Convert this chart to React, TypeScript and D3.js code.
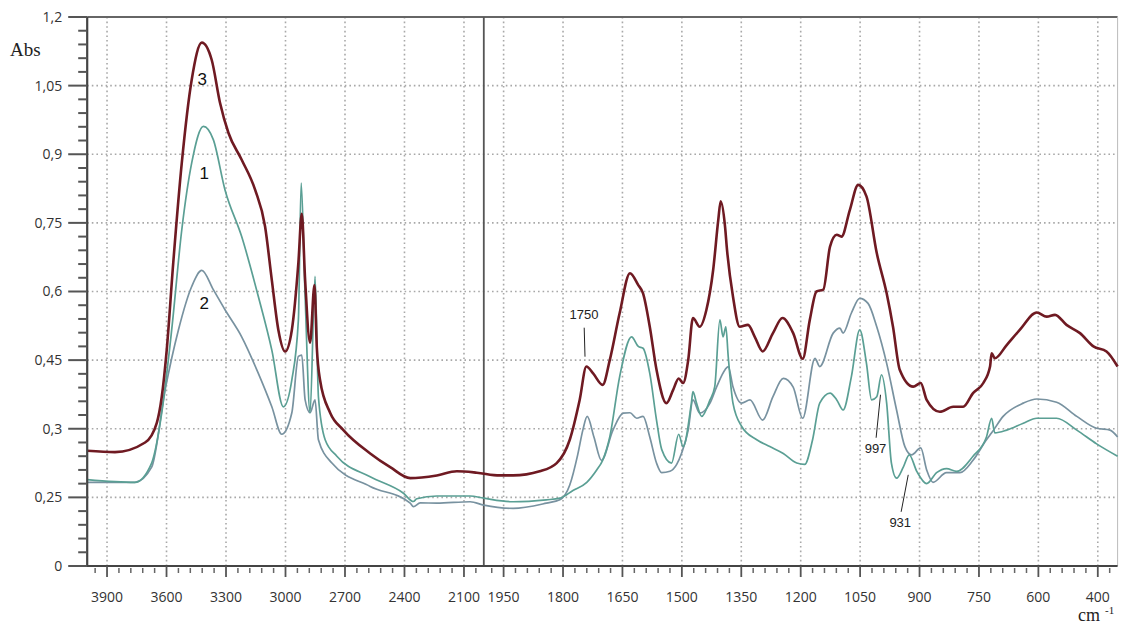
import React from 'react'
import * as d3 from 'd3'

// y axis of the original is not linear: equal steps carry these labels
const yTickValues = [0, 0.25, 0.3, 0.45, 0.6, 0.75, 0.9, 1.05, 1.2]
const yTickLabels = ['0', '0,25', '0,3', '0,45', '0,6', '0,75', '0,9', '1,05', '1,2']

// x axis is split at 2000 cm-1 (right part expanded x2)
const xBreaks = [4000, 2000, 400]
const xTicksLeft = [3900, 3600, 3300, 3000, 2700, 2400, 2100]
const xTicksRight = [1950, 1800, 1650, 1500, 1350, 1200, 1050, 900, 750, 600, 450]
const xTickLabels = ['3900', '3600', '3300', '3000', '2700', '2400', '2100',
  '1950', '1800', '1650', '1500', '1350', '1200', '1050', '900', '750', '600', '400']

// [wavenumber, absorbance]
const series3 = [
  [4000, 0.284], [3860, 0.283], [3708, 0.29], [3649, 0.313], [3624, 0.37], [3599, 0.472], [3566, 0.663],
  [3523, 0.881], [3473, 1.063], [3422, 1.144], [3372, 1.106], [3330, 1.012], [3288, 0.947], [3221, 0.888],
  [3153, 0.822], [3103, 0.742], [3069, 0.625], [3036, 0.516], [3002, 0.469], [2968, 0.516], [2935, 0.663],
  [2918, 0.77], [2901, 0.625], [2876, 0.488], [2854, 0.614], [2842, 0.477], [2826, 0.407], [2775, 0.335],
  [2708, 0.299], [2573, 0.282], [2472, 0.272], [2371, 0.264], [2237, 0.266], [2136, 0.269], [2035, 0.268],
  [1960, 0.266], [1926, 0.266], [1859, 0.269], [1816, 0.275], [1783, 0.292], [1758, 0.363], [1741, 0.436],
  [1724, 0.421], [1700, 0.396], [1682, 0.45], [1657, 0.553], [1631, 0.64], [1610, 0.614], [1598, 0.596],
  [1581, 0.523], [1564, 0.429], [1539, 0.356], [1522, 0.385], [1508, 0.41], [1497, 0.4], [1484, 0.45],
  [1472, 0.542], [1455, 0.523], [1438, 0.56], [1421, 0.647], [1408, 0.757], [1402, 0.797], [1391, 0.742],
  [1386, 0.691], [1371, 0.589], [1354, 0.523], [1333, 0.527], [1316, 0.501], [1296, 0.469], [1270, 0.509],
  [1246, 0.542], [1219, 0.509], [1195, 0.453], [1177, 0.538], [1160, 0.6], [1143, 0.604], [1126, 0.698],
  [1109, 0.724], [1097, 0.72], [1076, 0.778], [1055, 0.833], [1034, 0.808], [1008, 0.684], [983, 0.596],
  [967, 0.523], [950, 0.429], [916, 0.392], [897, 0.4], [882, 0.363], [849, 0.337], [815, 0.348],
  [790, 0.348], [765, 0.378], [739, 0.4], [722, 0.436], [718, 0.465], [710, 0.454], [680, 0.483],
  [647, 0.516], [604, 0.554], [579, 0.545], [558, 0.549], [529, 0.527], [495, 0.509], [461, 0.48],
  [428, 0.469], [400, 0.436],
]

const series1 = [
  [4000, 0.263], [3759, 0.261], [3675, 0.275], [3624, 0.335], [3574, 0.516], [3523, 0.735], [3473, 0.881],
  [3414, 0.961], [3364, 0.932], [3305, 0.822], [3221, 0.72], [3137, 0.589], [3069, 0.472], [3011, 0.348],
  [2968, 0.407], [2935, 0.538], [2921, 0.837], [2901, 0.589], [2876, 0.335], [2851, 0.633], [2834, 0.37],
  [2800, 0.292], [2741, 0.28], [2573, 0.265], [2405, 0.253], [2355, 0.235], [2338, 0.245], [2237, 0.251],
  [2069, 0.251], [2000, 0.247], [1926, 0.234], [1842, 0.241], [1808, 0.247], [1775, 0.255], [1740, 0.261],
  [1715, 0.27], [1700, 0.277], [1682, 0.294], [1657, 0.414], [1627, 0.501], [1610, 0.48], [1598, 0.476],
  [1581, 0.421], [1564, 0.319], [1551, 0.285], [1526, 0.275], [1508, 0.296], [1497, 0.287], [1476, 0.356],
  [1472, 0.381], [1463, 0.356], [1450, 0.327], [1429, 0.363], [1417, 0.392], [1404, 0.538], [1396, 0.501],
  [1389, 0.523], [1383, 0.458], [1371, 0.356], [1349, 0.305], [1311, 0.292], [1278, 0.287], [1244, 0.282],
  [1210, 0.275], [1190, 0.274], [1170, 0.292], [1152, 0.356], [1126, 0.378], [1109, 0.363], [1093, 0.341],
  [1072, 0.414], [1051, 0.516], [1034, 0.443], [1021, 0.363], [1008, 0.37], [996, 0.418], [983, 0.356],
  [971, 0.275], [958, 0.264], [941, 0.272], [926, 0.281], [907, 0.269], [882, 0.26], [857, 0.268],
  [832, 0.271], [806, 0.269], [765, 0.28], [731, 0.294], [718, 0.323], [710, 0.297], [680, 0.299],
  [638, 0.312], [604, 0.323], [554, 0.323], [503, 0.299], [453, 0.289], [400, 0.28],
]

const series2 = [
  [4000, 0.261], [3759, 0.261], [3675, 0.272], [3607, 0.385], [3540, 0.516], [3473, 0.611], [3422, 0.646],
  [3364, 0.604], [3305, 0.56], [3221, 0.501], [3137, 0.421], [3069, 0.348], [3019, 0.296], [2968, 0.335],
  [2935, 0.458], [2918, 0.461], [2901, 0.363], [2876, 0.335], [2851, 0.363], [2834, 0.292], [2766, 0.275],
  [2573, 0.258], [2371, 0.229], [2355, 0.216], [2321, 0.23], [2237, 0.229], [2069, 0.234], [2000, 0.222],
  [1926, 0.21], [1842, 0.229], [1808, 0.241], [1783, 0.259], [1763, 0.281], [1750, 0.299], [1739, 0.327],
  [1722, 0.294], [1703, 0.277], [1674, 0.299], [1648, 0.334], [1631, 0.335], [1614, 0.323], [1598, 0.327],
  [1581, 0.294], [1564, 0.275], [1551, 0.268], [1530, 0.269], [1513, 0.274], [1501, 0.282], [1484, 0.299],
  [1472, 0.363], [1455, 0.334], [1429, 0.356], [1412, 0.392], [1391, 0.429], [1383, 0.436], [1371, 0.392],
  [1349, 0.356], [1328, 0.363], [1296, 0.319], [1270, 0.37], [1244, 0.41], [1219, 0.391], [1195, 0.323],
  [1164, 0.454], [1152, 0.436], [1118, 0.509], [1101, 0.52], [1093, 0.509], [1072, 0.553], [1051, 0.585],
  [1030, 0.574], [1008, 0.523], [983, 0.443], [958, 0.341], [937, 0.287], [920, 0.281], [897, 0.286],
  [882, 0.27], [866, 0.261], [832, 0.268], [798, 0.268], [765, 0.277], [731, 0.292], [718, 0.297],
  [689, 0.327], [638, 0.356], [604, 0.365], [554, 0.358], [503, 0.327], [453, 0.301], [419, 0.299],
  [400, 0.294],
]

const curveLabels = [
  { text: '3', wn: 3420, v: 1.065 },
  { text: '1', wn: 3410, v: 0.86 },
  { text: '2', wn: 3410, v: 0.575 },
]

// peak marks: point on curve and label offset
const peakMarks = [
  { text: '1750', wn: 1742, v: 0.44, dx: -2, dy: -46 },
  { text: '997', wn: 996, v: 0.418, dx: -6, dy: 78 },
  { text: '931', wn: 926, v: 0.281, dx: -9, dy: 72 },
]

const W = 1121
const H = 628
const left = 87.2
const right = 1117.6
const breakX = 483.8
const top = 17
const bottom = 566

const tickFont = '"Open Sans", "Liberation Sans", sans-serif'
const serif = '"Liberation Serif", "DejaVu Serif", serif'

export default function App() {
  const x = d3.scaleLinear().domain(xBreaks).range([left, breakX, right])
  const yStep = (bottom - top) / (yTickValues.length - 1)
  const y = d3.scaleLinear()
    .domain(yTickValues)
    .range(yTickValues.map((_, i) => bottom - i * yStep))

  const line = d3.line()
    .x(d => x(d[0]))
    .y(d => y(d[1]))
    .curve(d3.curveMonotoneX)

  const xMajors = [...xTicksLeft, ...xTicksRight]
  const xMinors = [
    ...d3.range(3960, 2000, -60).filter(v => (3900 - v) % 300 !== 0),
    ...d3.range(1980, 400, -30).filter(v => (1950 - v) % 150 !== 0),
  ]
  const yMinors = []
  for (let i = 0; i < yTickValues.length - 1; i++) {
    for (let k = 1; k < 5; k++) yMinors.push(bottom - (i + k / 5) * yStep)
  }

  const grid = '#a8a8a8'

  return (
    <svg width={W} height={H} style={{ position: 'absolute', left: 0, top: 0, background: '#fff' }}>
      {/* grid */}
      <g stroke={grid} strokeWidth={1.6} strokeDasharray="1.6,3">
        {xMajors.map(v => (
          <line key={'gx' + v} x1={x(v)} x2={x(v)} y1={top} y2={bottom} />
        ))}
        {yTickValues.slice(1, -1).map(v => (
          <line key={'gy' + v} x1={left} x2={right} y1={y(v)} y2={y(v)} />
        ))}
      </g>

      {/* frame */}
      <line x1={left} x2={right} y1={top} y2={top} stroke="#666" strokeWidth={2} />
      <line x1={right} x2={right} y1={top} y2={bottom} stroke="#bbb" strokeWidth={1} />
      <line x1={breakX} x2={breakX} y1={top} y2={bottom} stroke="#555" strokeWidth={1.8} />

      {/* series */}
      <path d={line(series2)} fill="none" stroke="#7892a0" strokeWidth={1.7} />
      <path d={line(series1)} fill="none" stroke="#5a9f94" strokeWidth={1.7} />
      <path d={line(series3)} fill="none" stroke="#6f1a22" strokeWidth={2.6} strokeLinejoin="round" />

      {/* y axis */}
      <line x1={left} x2={left} y1={top} y2={bottom + 1} stroke="#444" strokeWidth={2.2} />
      {yTickValues.map((v, i) => (
        <g key={'yt' + v}>
          <line x1={left - 19} x2={left} y1={y(v)} y2={y(v)} stroke="#555" strokeWidth={2} />
          <text x={left - 25} y={y(v)} dy="0.35em" textAnchor="end"
            fontFamily={tickFont} fontSize={14} fill="#333">{yTickLabels[i]}</text>
        </g>
      ))}
      {yMinors.map((p, i) => (
        <line key={'ym' + i} x1={left - 9} x2={left} y1={p} y2={p} stroke="#555" strokeWidth={2} />
      ))}

      {/* x axis */}
      <line x1={left} x2={right} y1={bottom} y2={bottom} stroke="#444" strokeWidth={2.2} />
      {xMajors.map((v, i) => (
        <g key={'xt' + v}>
          <line x1={x(v)} x2={x(v)} y1={bottom} y2={bottom + 11} stroke="#555" strokeWidth={1.8} />
          <text x={x(v)} y={bottom + 36} textAnchor="middle"
            fontFamily={tickFont} fontSize={14} fill="#333">{xTickLabels[i]}</text>
        </g>
      ))}
      {xMinors.map(v => (
        <line key={'xm' + v} x1={x(v)} x2={x(v)} y1={bottom + 2} y2={bottom + 7} stroke="#666" strokeWidth={1.5} />
      ))}

      {/* axis titles */}
      <text x={10} y={56} fontFamily={serif} fontSize={19} fill="#222">Abs</text>
      <text x={1078} y={621} fontFamily={serif} fontSize={18} fill="#222">cm</text>
      <text x={1105} y={614} fontFamily={serif} fontSize={11} fill="#222">-1</text>

      {/* curve numbers */}
      {curveLabels.map(c => (
        <text key={c.text} x={x(c.wn)} y={y(c.v)} dy="0.35em" textAnchor="middle"
          fontFamily='"Liberation Sans", Arial, sans-serif' fontSize={17} fill="#111">{c.text}</text>
      ))}

      {/* peak annotations */}
      {peakMarks.map(p => {
        const px = x(p.wn)
        const py = y(p.v)
        const up = p.dy < 0
        return (
          <g key={p.text}>
            <line x1={px - 1} y1={up ? py - 8 : py + 20} x2={px + p.dx * 0.9} y2={up ? py + p.dy + 9 : py + p.dy - 15}
              stroke="#222" strokeWidth={1} />
            <text x={px + p.dx} y={py + p.dy} textAnchor="middle"
              fontFamily='"Liberation Sans", Arial, sans-serif' fontSize={13} fill="#222">{p.text}</text>
          </g>
        )
      })}
    </svg>
  )
}
